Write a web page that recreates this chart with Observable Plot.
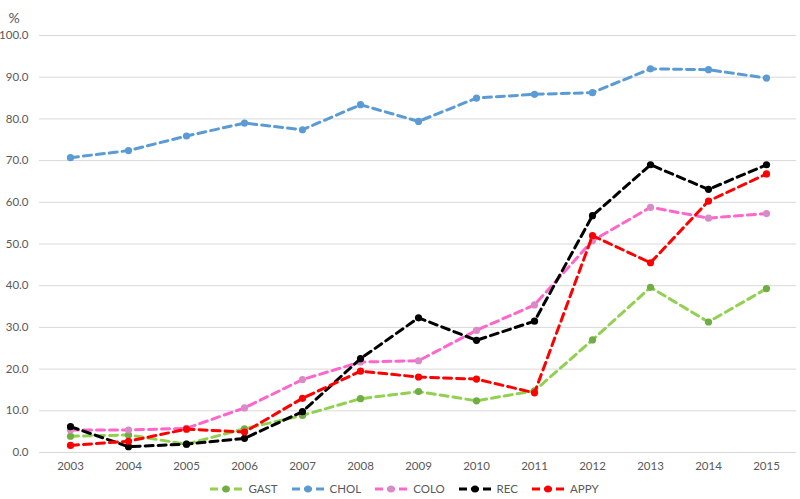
<!DOCTYPE html>
<html>
<head>
<meta charset="utf-8">
<script src="https://cdn.jsdelivr.net/npm/d3@7"></script>
<script src="https://cdn.jsdelivr.net/npm/@observablehq/plot@0.6"></script>
<style>
  html, body { margin: 0; padding: 0; background: #fff; }
  #chart { width: 800px; }
  #legend { display: flex; justify-content: center; align-items: center; gap: 13px; height: 21px; font-family: Lato, "Open Sans", sans-serif; font-size: 11.5px; color: #595959; margin-left: 8px; }
  .item { display: flex; align-items: center; gap: 5px; }
</style>
</head>
<body>
<div id="chart"></div>
<div id="legend"></div>
<script>
const years = [2003, 2004, 2005, 2006, 2007, 2008, 2009, 2010, 2011, 2012, 2013, 2014, 2015];
const gast = [3.9, 4.2, 2.0, 5.7, 8.9, 12.9, 14.6, 12.4, 14.8, 27.0, 39.6, 31.3, 39.3];
const chol = [70.7, 72.4, 75.9, 79.0, 77.4, 83.4, 79.4, 85.0, 85.9, 86.3, 92.0, 91.8, 89.8];
const colo = [5.4, 5.4, 5.8, 10.7, 17.5, 21.7, 22.0, 29.3, 35.4, 50.8, 58.8, 56.2, 57.3];
const rec  = [6.2, 1.4, 2.0, 3.4, 9.8, 22.5, 32.3, 26.9, 31.5, 56.8, 69.0, 63.1, 69.0];
const appy = [1.7, 2.7, 5.6, 4.9, 13.0, 19.5, 18.1, 17.6, 14.3, 52.0, 45.5, 60.3, 66.8];
const seriesNames = ["GAST", "CHOL", "COLO", "REC", "APPY"];
const seriesValues = [gast, chol, colo, rec, appy];
const lineColors = ["#92D050", "#5B9BD5", "#FF66CC", "#000000", "#FF0000"];
const dotColors = ["#70AD47", "#5B9BD5", "#D88BC7", "#000000", "#FF0000"];
const yTicks = [0, 10, 20, 30, 40, 50, 60, 70, 80, 90, 100];

const font = 'Lato, "Open Sans", sans-serif';
const seriesMarks = seriesNames.flatMap((name, i) => {
  const data = years.map((yr, j) => ({year: yr, value: seriesValues[i][j]}));
  return [
    Plot.line(data, {x: "year", y: "value", stroke: lineColors[i], strokeWidth: 3, strokeDasharray: "8,5"}),
    Plot.dot(data, {x: "year", y: "value", r: 3.6, fill: dotColors[i], stroke: "none"})
  ];
});

const plot = Plot.plot({
  width: 800,
  height: 478,
  marginLeft: 39,
  marginRight: 4,
  marginTop: 35,
  marginBottom: 26,
  style: {fontFamily: font, fontSize: "11.5px", color: "#595959", background: "#fff"},
  x: {type: "point", domain: years, padding: 0.5},
  y: {domain: [0, 100]},
  marks: [
    Plot.gridY(yTicks, {stroke: "#d9d9d9", strokeOpacity: 1, strokeWidth: 1}),
    Plot.axisY(yTicks, {tickSize: 0, tickPadding: 11, tickFormat: d => d.toFixed(1), label: null, fill: "#595959"}),
    Plot.axisX(years, {tickSize: 0, tickPadding: 9, tickFormat: d => String(d), label: null, fill: "#595959"}),
    Plot.text(["%"], {frameAnchor: "top-left", dx: -31, dy: -22, textAnchor: "start", fontSize: 14, fill: "#595959"}),
    ...seriesMarks
  ]
});
document.getElementById("chart").appendChild(plot);

const legend = document.getElementById("legend");
seriesNames.forEach((name, i) => {
  const item = document.createElement("div");
  item.className = "item";
  item.innerHTML = `<svg width="34" height="10"><line x1="1" y1="5" x2="33" y2="5" stroke="${lineColors[i]}" stroke-width="3" stroke-dasharray="8,4"/><circle cx="17" cy="5" r="3.6" fill="${dotColors[i]}"/></svg><span>${name}</span>`;
  legend.appendChild(item);
});
</script>
</body>
</html>
